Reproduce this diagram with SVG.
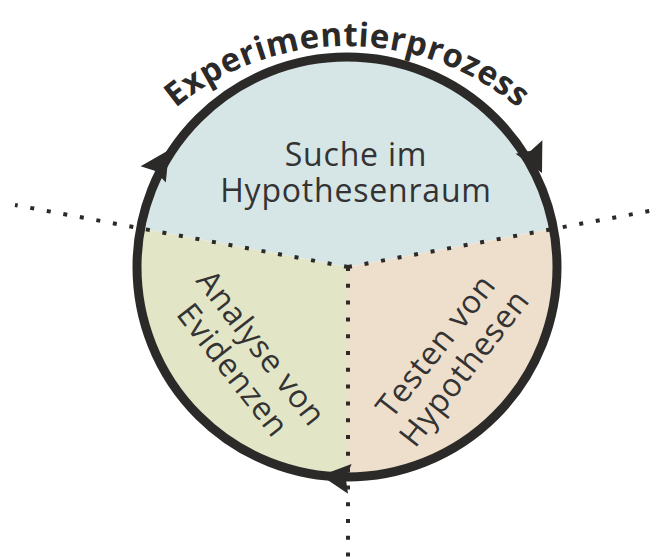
<svg xmlns="http://www.w3.org/2000/svg" xmlns:xlink="http://www.w3.org/1999/xlink" width="660" height="560" viewBox="0 0 660 560">
<style>
.title{font-family:"Open Sans","Liberation Sans",sans-serif;font-weight:bold;font-size:33px;fill:#2b2a29}
.lbl{font-family:"Open Sans","Liberation Sans",sans-serif;font-size:32px;letter-spacing:0.8px;fill:#333333;text-anchor:middle}
.ring{fill:none;stroke:#2b2a29;stroke-width:9}
.dots{fill:none;stroke:#2b2a29;stroke-width:4;stroke-dasharray:4 12.8}
.arrow{fill:#2b2a29}
</style>
<defs>
<path id="titlePath" d="M80,313 A267,267 0 0,1 614,313"/>
<path id="arrowhead" d="M0,0 L-29,-15 L-25,0 L-29,15 Z"/>
</defs>
<rect width="660" height="560" fill="#ffffff"/>
<g id="sector-search">
<path d="M348,267 L141.6,228.4 A210,210 0 0,1 554.4,228.4 Z" fill="#d6e5e6"/>
<text class="lbl"><tspan x="356" y="166">Suche im</tspan><tspan x="356" y="202">Hypothesenraum</tspan></text>
</g>
<g id="sector-analysis">
<path d="M348,267 L348,477 A210,210 0 0,1 141.6,228.4 Z" fill="#e3e5c7"/>
<text class="lbl" transform="translate(247,359) rotate(52)"><tspan x="0" y="-7">Analyse von</tspan><tspan x="0" y="29">Evidenzen</tspan></text>
</g>
<g id="sector-testing">
<path d="M348,267 L554.4,228.4 A210,210 0 0,1 348,477 Z" fill="#eedfcc"/>
<text class="lbl" transform="translate(450,357) rotate(-52)"><tspan x="0" y="-7">Testen von</tspan><tspan x="0" y="29">Hypothesen</tspan></text>
</g>
<g id="connectors">
<circle class="ring" cx="347" cy="267" r="210"/>
<use href="#arrowhead" class="arrow" transform="translate(542,173) rotate(63.3)"/>
<use href="#arrowhead" class="arrow" transform="translate(169,150) rotate(-57)"/>
<use href="#arrowhead" class="arrow" transform="translate(321,475.5) rotate(186.8)"/>
<path class="dots" d="M348,267 L15,205"/>
<path class="dots" d="M348,267 L655,210"/>
<path class="dots" d="M348,267 L348,558"/>
</g>
<g id="title">
<text class="title"><textPath href="#titlePath" startOffset="50%" text-anchor="middle" textLength="372" lengthAdjust="spacing">Experimentierprozess</textPath></text>
</g>
</svg>
